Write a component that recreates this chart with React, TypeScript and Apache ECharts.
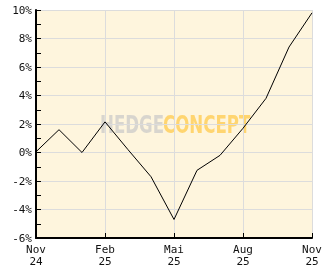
import React, { useEffect, useRef } from "react";
import * as echarts from "echarts";

const months = ["Nov\n24", "Dez\n24", "Jan\n25", "Feb\n25", "Mär\n25", "Apr\n25", "Mai\n25", "Jun\n25", "Jul\n25", "Aug\n25", "Sep\n25", "Okt\n25", "Nov\n25"];
const performance = [0.05, 1.6, 0.0, 2.15, 0.2, -1.7, -4.7, -1.25, -0.2, 1.7, 3.8, 7.4, 9.8];
const yMin = -6;
const yMax = 10;
const yStep = 2;

export default function App() {
  const ref = useRef<HTMLDivElement>(null);
  useEffect(() => {
    const chart = echarts.init(ref.current!, null, { renderer: "svg" });
    const font = "DejaVu Sans Mono";
    chart.setOption({
      animation: false,
      grid: {
        left: 36,
        right: 20,
        top: 10,
        bottom: 31,
        show: true,
        backgroundColor: "#fef5dd",
        borderWidth: 0,
      },
      xAxis: {
        type: "category",
        data: months,
        boundaryGap: false,
        axisLine: { onZero: false, lineStyle: { color: "#000", width: 2 } },
        axisTick: { inside: true, length: 5, interval: 2, lineStyle: { color: "#000" } },
        axisLabel: { interval: 2, color: "#111", fontFamily: font, fontSize: 11, lineHeight: 12, margin: 5 },
        splitLine: { show: true, interval: 2, lineStyle: { color: "#dcdcdc", width: 1 } },
      },
      yAxis: {
        type: "value",
        min: yMin,
        max: yMax,
        interval: yStep,
        axisLine: { show: true, onZero: false, lineStyle: { color: "#000", width: 2 } },
        axisTick: { show: true, inside: true, length: 5, lineStyle: { color: "#000" } },
        minorTick: { show: true, splitNumber: 2, length: 5, lineStyle: { color: "#000" } },
        axisLabel: { formatter: "{value}%", color: "#111", fontFamily: font, fontSize: 11, margin: 4 },
        splitLine: { show: true, lineStyle: { color: "#dcdcdc", width: 1 } },
      },
      series: [
        {
          type: "line",
          data: performance,
          showSymbol: false,
          lineStyle: { color: "#000", width: 1 },
        },
      ],
      graphic: [
        {
          type: "group",
          left: 100,
          top: 112,
          z: 100,
          children: [
            {
              type: "text",
              x: 0,
              y: 0,
              scaleX: 0.74,
              style: { text: "HEDGE", fill: "rgba(200,200,200,0.7)", font: "bold 25px 'DejaVu Sans Condensed'" },
            },
            {
              type: "text",
              x: 63,
              y: 0,
              scaleX: 0.74,
              style: { text: "CONCEPT", fill: "rgba(255,198,60,0.68)", font: "bold 25px 'DejaVu Sans Condensed'" },
            },
          ],
        },
      ],
    });
    return () => chart.dispose();
  }, []);
  return <div ref={ref} style={{ position: "fixed", left: 0, top: 0, width: 332, height: 269 }} />;
}
